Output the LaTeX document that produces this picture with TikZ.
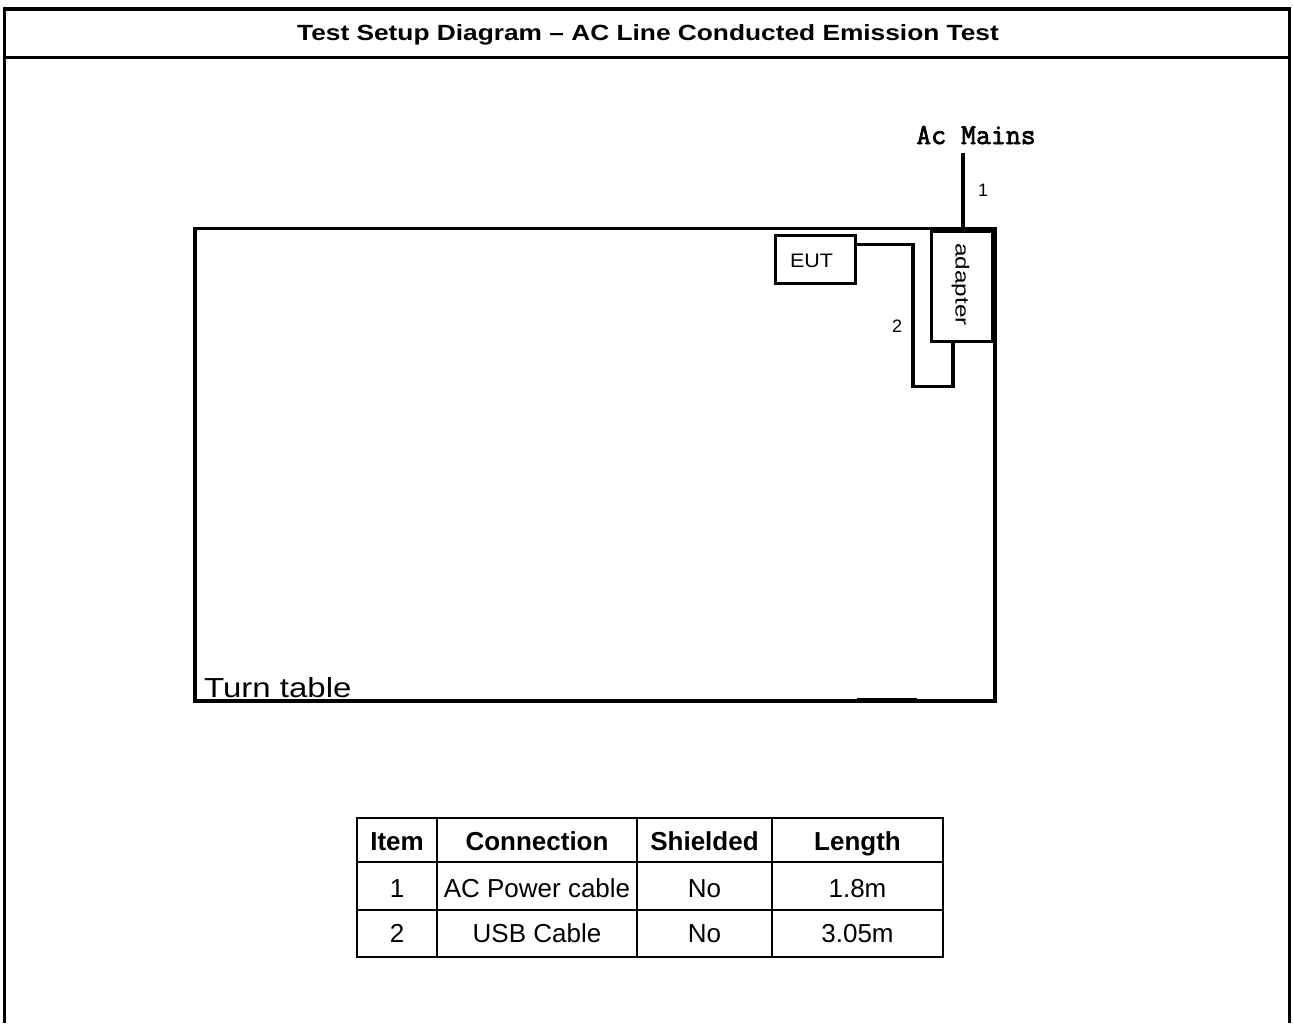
\documentclass[tikz,border=0pt]{standalone}
\usepackage{fontspec}
\setmainfont{Liberation Sans}
\newfontfamily\titlefont{Liberation Sans}[FakeStretch=1.195]
\newfontfamily\turnfont{Liberation Sans}[FakeStretch=1.2]
\newfontfamily\eutfont{Liberation Sans}[FakeStretch=1.1]
\newfontfamily\adapterfont{Liberation Sans}[FakeStretch=1.28]
\newfontfamily\mainsfont{Latin Modern Mono}[FakeBold=2.5]
\begin{document}
\begin{tikzpicture}[x=1pt,y=-1pt,
  frameline/.style={line width=3.5pt},
  boxline/.style={draw,line width=3pt,inner sep=0pt,rectangle},
  cable/.style={line width=3.5pt},
  gridline/.style={line width=2.5pt},
  cellhead/.style={anchor=base,inner sep=0pt,font=\fontsize{26}{30}\selectfont\bfseries},
  cell/.style={anchor=base,inner sep=0pt,font=\fontsize{26}{30}\selectfont},
  numlabel/.style={inner sep=0pt,font=\fontsize{18}{20}\selectfont}]
\useasboundingbox (0,0) rectangle (1293,1023);
% outer frame
\draw[frameline] (4.5,1023) -- (4.5,9) -- (1289.5,9) -- (1289.5,1023);
\draw[line width=3pt] (4.5,57.5) -- (1289.5,57.5);
\node[anchor=base,inner sep=0pt,font=\titlefont\fontsize{22}{26}\selectfont\bfseries] (title) at (648,40) {Test Setup Diagram – AC Line Conducted Emission Test};
% turn table
\node[draw,line width=3.5pt,inner sep=0pt,minimum width=800pt,minimum height=472.5pt] (table) at (595,464.75) {};
\node[anchor=base west,inner sep=0pt,font=\turnfont\fontsize{27.5}{30}\selectfont] (tttext) at (204,697) {Turn table};
\draw[line width=3.5pt] (857,700) -- (917,700);
% adapter
\node[boxline,minimum width=61pt,minimum height=110pt] (adapter) at (962,286.5) {};
\node[rotate=-90,inner sep=0pt,font=\adapterfont\fontsize{19}{22}\selectfont] (adaptertext) at (960.5,284.5) {adapter};
% EUT
\node[boxline,minimum width=80pt,minimum height=48pt] (EUT) at (815,259.5) {};
\node[inner sep=0pt,font=\eutfont\fontsize{19.5}{22}\selectfont] (euttext) at (811.5,261) {EUT};
% AC mains
\node[anchor=base,inner sep=0pt,font=\mainsfont\fontsize{29}{32}\selectfont] (mains) at (976,144) {Ac Mains};
\coordinate (mainsend) at (963,153);
\draw[cable] (mainsend) -- (mainsend |- table.north);
\node[numlabel] (one) at (983,190) {1};
% cable 2
\coordinate (c2a) at (913,244.5);
\coordinate (c2b) at (913,386.5);
\coordinate (c2c) at (953,386.5);
\draw[cable] (EUT.east |- c2a) -- (c2a) -- (c2b) -- (c2c) -- (c2c |- adapter.south);
\node[numlabel] (two) at (897,326.5) {2};
% table
\draw[gridline] (357,818) rectangle (943,957);
\draw[gridline] (357,862) -- (943,862) (357,910) -- (943,910);
\draw[gridline] (437,818) -- (437,957) (637,818) -- (637,957) (772,818) -- (772,957);
\node[cellhead] (h1) at (397,850) {Item};
\node[cellhead] (h2) at (537,850) {Connection};
\node[cellhead] (h3) at (704.5,850) {Shielded};
\node[cellhead] (h4) at (857.5,850) {Length};
\node[cell] (a1) at (397,897) {1};
\node[cell] (a2) at (537,897) {AC Power cable};
\node[cell] (a3) at (704.5,897) {No};
\node[cell] (a4) at (857.5,897) {1.8m};
\node[cell] (b1) at (397,942) {2};
\node[cell] (b2) at (537,942) {USB Cable};
\node[cell] (b3) at (704.5,942) {No};
\node[cell] (b4) at (857.5,942) {3.05m};
\end{tikzpicture}
\end{document}
